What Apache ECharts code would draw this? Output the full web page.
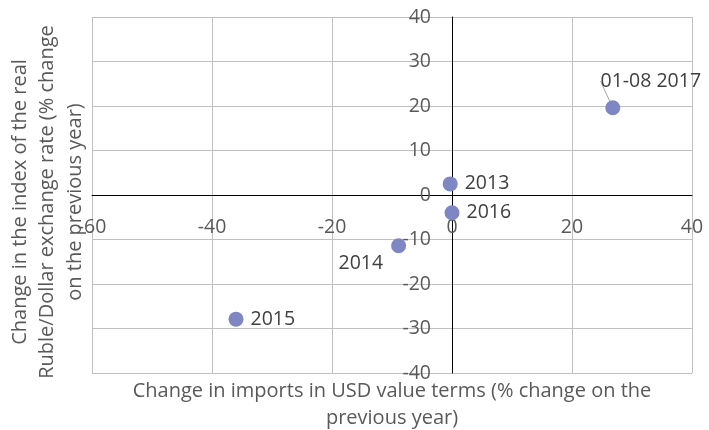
<!DOCTYPE html>
<html>
<head>
<meta charset="utf-8">
<script src="https://cdn.jsdelivr.net/npm/echarts@6/dist/echarts.min.js"></script>
<style>
  html, body { margin: 0; padding: 0; background: #fff; }
  #chart { width: 709px; height: 430px; }
</style>
</head>
<body>
<div id="chart"></div>
<script>
// points: period, imports change (x), real ruble/dollar index change (y)
var pointNames = ['2013', '2014', '2015', '2016', '01-08 2017'];
var importsChange = [-0.3, -8.9, -36.0, 0.0, 26.8];
var rubleChange = [2.5, -11.4, -27.9, -4.0, 19.6];

var xRange = [-60, 40, 20];   // min, max, interval
var yRange = [-40, 40, 10];

var xName = 'Change in imports in USD value terms (% change on the\nprevious year)';
var yName = 'Change in the index of the real\nRuble/Dollar exchange rate (% change\non the previous year)';

var FONT = 'Open Sans';
var gridColor = '#c0c0c0';
var W = 709, H = 430;
var G = { left: 92, right: 17, top: 17, bottom: 57 };

// where the zero lines sit inside the plot (to carry the tick labels there)
var plotW = W - G.left - G.right;
var plotH = H - G.top - G.bottom;
var xZeroPx = (0 - xRange[0]) / (xRange[1] - xRange[0]) * plotW;
var yZeroPx = (0 - yRange[0]) / (yRange[1] - yRange[0]) * plotH;

// label nudges (px) for the two labels that are not simply on the right
var labelShift = { '2014': [0, 18], '01-08 2017': [38, -2] };

var chart = echarts.init(document.getElementById('chart'));

var points = [];
for (var i = 0; i < pointNames.length; i++) {
  var item = { name: pointNames[i], value: [importsChange[i], rubleChange[i]] };
  if (pointNames[i] === '2014') {
    item.label = { position: 'left', distance: 8 };
  }
  if (pointNames[i] === '01-08 2017') {
    item.label = { position: 'top' };
    item.labelLine = { show: true, lineStyle: { color: '#a6a6a6', width: 1 } };
  }
  points.push(item);
}

var tickLabel = { fontFamily: FONT, fontSize: 19.5, color: '#595959' };

var option = {
  animation: false,
  grid: { left: G.left, right: G.right, top: G.top, bottom: G.bottom, outerBoundsMode: 'none' },
  xAxis: [
    {
      type: 'value', min: xRange[0], max: xRange[1], interval: xRange[2],
      position: 'bottom',
      axisLine: { show: false, onZero: false },
      axisTick: { show: false },
      axisLabel: { show: false },
      splitLine: { lineStyle: { color: gridColor, width: 1 } },
      name: xName,
      nameLocation: 'middle',
      nameGap: 5,
      nameTextStyle: { fontFamily: FONT, fontSize: 20, color: '#595959', lineHeight: 27, verticalAlign: 'top' }
    },
    {
      type: 'value', min: xRange[0], max: xRange[1], interval: xRange[2],
      position: 'bottom',
      offset: -yZeroPx,
      axisLine: { onZero: false, lineStyle: { color: '#000', width: 1 } },
      axisTick: { show: false },
      axisLabel: Object.assign({ margin: 22 }, tickLabel),
      splitLine: { show: false }
    }
  ],
  yAxis: [
    {
      type: 'value', min: yRange[0], max: yRange[1], interval: yRange[2],
      position: 'left',
      axisLine: { show: false, onZero: false },
      axisTick: { show: false },
      axisLabel: { show: false },
      splitLine: { lineStyle: { color: gridColor, width: 1 } },
      name: yName,
      nameLocation: 'middle',
      nameGap: 3,
      nameTextStyle: { fontFamily: FONT, fontSize: 20, color: '#595959', lineHeight: 27.5, padding: [0, 14, 0, 0] }
    },
    {
      type: 'value', min: yRange[0], max: yRange[1], interval: yRange[2],
      position: 'left',
      offset: -xZeroPx,
      axisLine: { onZero: false, lineStyle: { color: '#000', width: 1 } },
      axisTick: { show: false },
      axisLabel: Object.assign({ margin: 21 }, tickLabel),
      splitLine: { show: false }
    }
  ],
  series: [
    {
      type: 'scatter',
      xAxisIndex: 0,
      yAxisIndex: 0,
      symbolSize: 15,
      itemStyle: { color: '#7f86c4', opacity: 1 },
      label: {
        show: true,
        position: 'right',
        distance: 7,
        formatter: '{b}',
        fontFamily: FONT,
        fontSize: 19.5,
        color: '#404040'
      },
      labelLayout: function (p) {
        var s = labelShift[pointNames[p.dataIndex]];
        if (s) {
          return { dx: s[0], dy: s[1] };
        }
      },
      data: points
    }
  ]
};

chart.setOption(option);
</script>
</body>
</html>
